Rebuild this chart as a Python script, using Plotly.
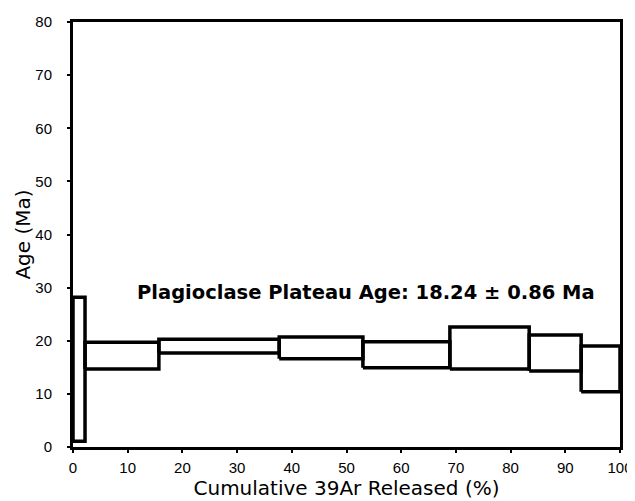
import plotly.graph_objects as go

# Step boundaries (cumulative % 39Ar) and age box bounds (Ma)
x_left = [0.0, 2.2, 15.7, 37.7, 53.0, 68.9, 83.4, 92.9]
x_right = [2.2, 15.7, 37.7, 53.0, 68.9, 83.4, 92.9, 100.0]
age_top = [28.2, 19.7, 20.3, 20.7, 19.8, 22.6, 21.1, 19.0]
age_bottom = [1.1, 14.7, 17.7, 16.6, 14.9, 14.7, 14.3, 10.4]

x_ticks = [0, 10, 20, 30, 40, 50, 60, 70, 80, 90, 100]
y_ticks = [0, 10, 20, 30, 40, 50, 60, 70, 80]

fig = go.Figure()
for xl, xr, t, b in zip(x_left, x_right, age_top, age_bottom):
    fig.add_trace(go.Scatter(
        x=[xl, xr, xr, xl, xl], y=[b, b, t, t, b],
        mode="lines", line=dict(color="black", width=3.5),
        showlegend=False, hoverinfo="skip", cliponaxis=False))

fig.add_annotation(x=11.3, y=29, xref="x", yref="y", xanchor="left", yanchor="middle",
                   text="<b>Plagioclase Plateau Age: 18.24 ± 0.86 Ma</b>",
                   showarrow=False, font=dict(family="DejaVu Sans", size=19.5, color="black"))

fig.update_layout(
    width=627, height=493,
    margin=dict(l=65, r=15, t=14, b=54),
    paper_bgcolor="white", plot_bgcolor="white",
    font=dict(family="Liberation Sans, Arial", color="black"),
)
fig.update_xaxes(range=[0, 100], tickvals=x_ticks, ticks="outside", ticklen=3, tickwidth=2,
                 tickcolor="black", showgrid=False, zeroline=False, automargin=False,
                 showline=True, linecolor="black", linewidth=3, mirror=True,
                 ticklabelstandoff=2,
                 tickfont=dict(size=15), title=dict(text="Cumulative 39Ar Released (%)",
                 font=dict(family="DejaVu Sans", size=20), standoff=3))
fig.update_yaxes(range=[0, 80], tickvals=y_ticks, ticks="outside", ticklen=3, tickwidth=2,
                 tickcolor="black", showgrid=False, zeroline=False, automargin=False,
                 showline=True, linecolor="black", linewidth=3, mirror=True,
                 ticklabelstandoff=12,
                 tickfont=dict(size=15), title=dict(text="Age (Ma)",
                 font=dict(family="DejaVu Sans", size=20), standoff=0))

fig.write_html("out.html")
